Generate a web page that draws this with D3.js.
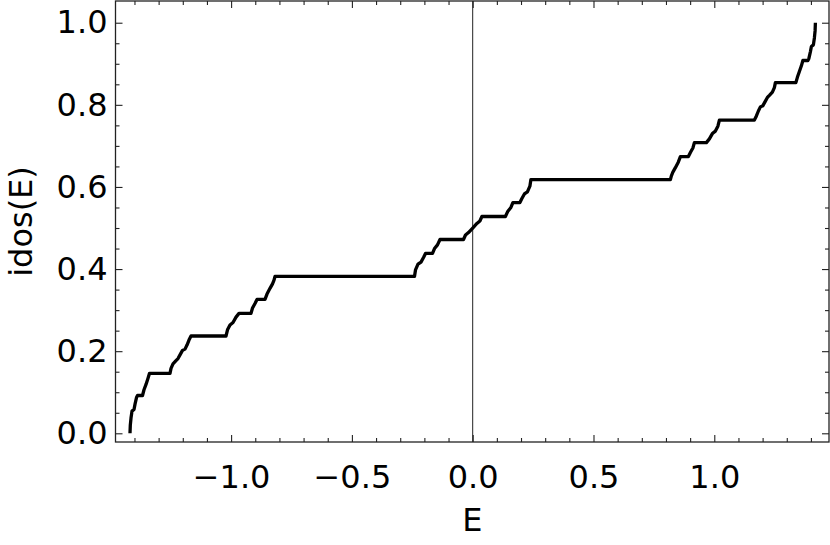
<!DOCTYPE html>
<html><head><meta charset="utf-8">
<script src="https://cdn.jsdelivr.net/npm/d3@7"></script>
<style>
html,body{margin:0;padding:0;background:#fff;}
svg{display:block;font-family:"DejaVu Sans",sans-serif;}
</style></head>
<body>
<svg id="chart" width="830" height="545"></svg>
<script>
// Energy values (E) along the integrated density of states curve
const energies = [
 -1.4185,-1.4172,-1.4143,-1.4102,-1.4019,-1.3977,-1.3916,-1.3874,-1.3667,-1.3605,-1.3522,-1.3439,-1.3377,
 -1.2529,-1.2487,-1.2405,-1.2281,-1.2198,-1.2115,-1.2012,-1.1908,-1.1825,-1.1743,-1.1660,
 -1.0211,-1.0149,-1.0046,-0.9921,-0.9797,-0.9673,-0.9176,-0.9114,-0.9011,-0.8928,-0.8597,-0.8514,-0.8390,-0.8286,-0.8224,-0.8183,
 -0.2409,-0.2368,-0.2264,-0.2140,-0.2036,-0.1954,-0.1664,-0.1581,-0.1457,-0.1354,-0.0381,-0.0298,-0.0174,0.0,
 0.0174,0.0298,0.0381,0.1354,0.1457,0.1581,0.1664,0.1954,0.2036,0.2140,0.2264,0.2368,0.2409,
 0.8183,0.8224,0.8286,0.8390,0.8514,0.8597,0.8928,0.9011,0.9114,0.9176,0.9673,0.9797,0.9921,1.0046,1.0149,1.0211,
 1.1660,1.1743,1.1825,1.1908,1.2012,1.2115,1.2198,1.2281,1.2405,1.2487,1.2529,
 1.3377,1.3439,1.3522,1.3605,1.3667,1.3874,1.3916,1.3977,1.4019,1.4102,1.4143,1.4172,1.4185
];
// idos(E) values at those energies
const idos = [
 0.000,0.020,0.037,0.054,0.058,0.071,0.087,0.092,0.092,0.106,0.119,0.134,0.146,
 0.146,0.158,0.169,0.177,0.182,0.191,0.202,0.205,0.215,0.227,0.237,
 0.237,0.252,0.264,0.270,0.283,0.292,0.292,0.305,0.316,0.326,0.326,0.339,0.353,0.364,0.373,0.382,
 0.382,0.398,0.412,0.417,0.428,0.438,0.438,0.450,0.459,0.472,0.472,0.483,0.489,0.500,
 0.511,0.517,0.528,0.528,0.541,0.550,0.562,0.562,0.572,0.583,0.588,0.602,0.618,
 0.618,0.627,0.636,0.647,0.661,0.674,0.674,0.684,0.695,0.708,0.708,0.717,0.730,0.736,0.748,0.763,
 0.763,0.773,0.785,0.795,0.798,0.809,0.818,0.823,0.831,0.842,0.854,
 0.854,0.867,0.881,0.895,0.908,0.908,0.913,0.929,0.942,0.946,0.963,0.980,1.000
];
const xMajorTicks = [-1.0,-0.5,0.0,0.5,1.0];
const xMinorTicks = [-1.4,-1.3,-1.2,-1.1,-0.9,-0.8,-0.7,-0.6,-0.4,-0.3,-0.2,-0.1,0.1,0.2,0.3,0.4,0.6,0.7,0.8,0.9,1.1,1.2,1.3,1.4];
const yMajorTicks = [0.0,0.2,0.4,0.6,0.8,1.0];
const yMinorTicks = [0.05,0.1,0.15,0.25,0.3,0.35,0.45,0.5,0.55,0.65,0.7,0.75,0.85,0.9,0.95];
const xLabel = "E", yLabel = "idos(E)";

const svg = d3.select("#chart");
const L = 115.5, R = 829, T = 1, B = 442;
const x = d3.scaleLinear().domain([-1.4785, 1.4748]).range([L, R]);
const y = d3.scaleLinear().domain([-0.0212, 1.0529]).range([B, T]);
const fmt = d => d3.format(".1f")(d).replace("-", "\u2212");

// vertical line at E=0
svg.append("line").attr("x1", x(0)).attr("x2", x(0)).attr("y1", T).attr("y2", B)
  .attr("stroke", "#222").attr("stroke-width", 1);

// curve
const pts = energies.map((e, i) => [e, idos[i]]);
svg.append("path").datum(pts)
  .attr("d", d3.line().x(d => x(d[0])).y(d => y(d[1])))
  .attr("fill", "none").attr("stroke", "#000").attr("stroke-width", 3.3)
  .attr("stroke-linejoin", "round").attr("stroke-linecap", "butt");

function styleAxis(g, size) {
  g.select(".domain").remove();
  g.selectAll(".tick line").attr("stroke", "#222").attr("stroke-width", 1.1);
  g.selectAll("text").attr("font-size", size).attr("fill", "#000")
    .attr("font-family", "DejaVu Sans");
}
// bottom
svg.append("g").attr("transform", `translate(0,${B})`)
  .call(d3.axisBottom(x).tickValues(xMajorTicks).tickSize(-7).tickPadding(23).tickFormat(fmt))
  .call(g => styleAxis(g, 32));
svg.append("g").attr("transform", `translate(0,${B})`)
  .call(d3.axisBottom(x).tickValues(xMinorTicks).tickSize(-4).tickFormat(""))
  .call(g => styleAxis(g, 32));
// top
svg.append("g").attr("transform", `translate(0,${T})`)
  .call(d3.axisTop(x).tickValues(xMajorTicks).tickSize(-7).tickFormat(""))
  .call(g => styleAxis(g, 32));
svg.append("g").attr("transform", `translate(0,${T})`)
  .call(d3.axisTop(x).tickValues(xMinorTicks).tickSize(-4).tickFormat(""))
  .call(g => styleAxis(g, 32));
// left
svg.append("g").attr("transform", `translate(${L},0)`)
  .call(d3.axisLeft(y).tickValues(yMajorTicks).tickSize(-7).tickPadding(8).tickFormat(fmt))
  .call(g => styleAxis(g, 32));
svg.append("g").attr("transform", `translate(${L},0)`)
  .call(d3.axisLeft(y).tickValues(yMinorTicks).tickSize(-4).tickFormat(""))
  .call(g => styleAxis(g, 32));
// right
svg.append("g").attr("transform", `translate(${R},0)`)
  .call(d3.axisRight(y).tickValues(yMajorTicks).tickSize(-7).tickFormat(""))
  .call(g => styleAxis(g, 32));
svg.append("g").attr("transform", `translate(${R},0)`)
  .call(d3.axisRight(y).tickValues(yMinorTicks).tickSize(-4).tickFormat(""))
  .call(g => styleAxis(g, 32));

// frame
svg.append("rect").attr("x", L).attr("y", T).attr("width", R - L).attr("height", B - T)
  .attr("fill", "none").attr("stroke", "#222").attr("stroke-width", 1.3);

// axis labels
svg.append("text").attr("x", (L + R) / 2).attr("y", 531).attr("text-anchor", "middle")
  .attr("font-size", 32).attr("fill", "#000").text(xLabel);
svg.append("text").attr("transform", `translate(32,${(T + B) / 2}) rotate(-90)`)
  .attr("text-anchor", "middle").attr("font-size", 32).attr("fill", "#000").text(yLabel);
</script>
</body></html>
